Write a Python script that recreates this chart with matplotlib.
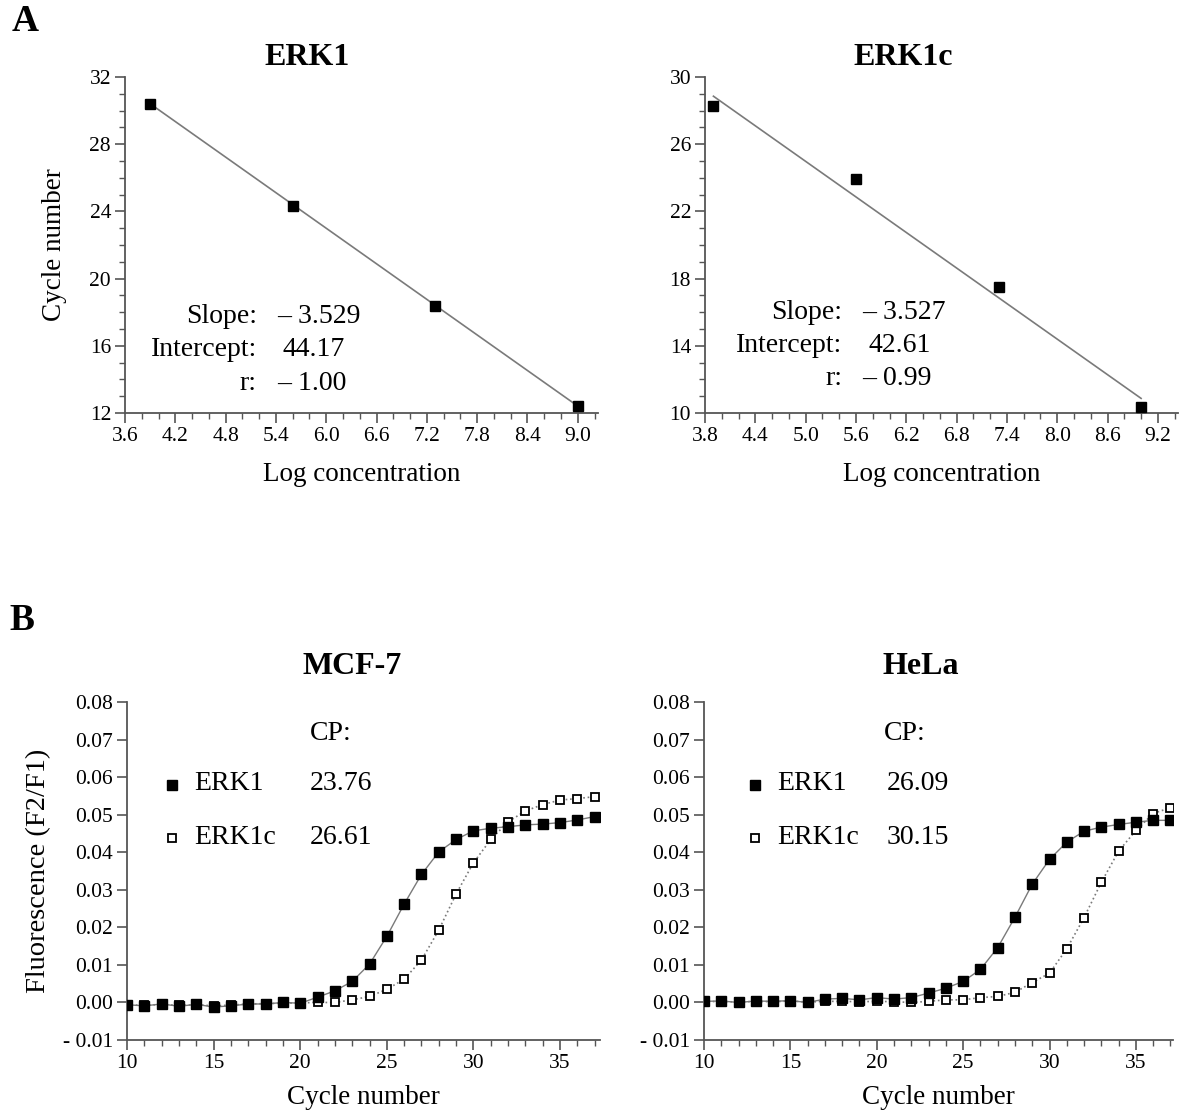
import numpy as np
import matplotlib
matplotlib.use('Agg')
import matplotlib.pyplot as plt
from matplotlib.ticker import MultipleLocator, FuncFormatter

plt.rcParams['font.family'] = ['Liberation Serif', 'DejaVu Serif']

# --- panel A: standard curves ---
log_conc = [3.9, 5.6, 7.3, 9.0]
erk1_cycles = [30.39, 24.34, 18.37, 12.42]
erk1c_cycles = [28.29, 23.91, 17.50, 10.34]
erk1_fit = (-3.529, 44.17, -1.00)
erk1c_fit = (-3.527, 42.61, -0.99)

# --- panel B: amplification curves ---
cycles = list(range(10, 38))
mcf7_erk1 = [-0.0006, -0.0009, -0.0004, -0.0010, -0.0005, -0.0012, -0.0009, -0.0004,
             -0.0004, 0.0000, -0.0002, 0.0014, 0.0031, 0.0056, 0.0102, 0.0176,
             0.0262, 0.0341, 0.0401, 0.0434, 0.0457, 0.0464, 0.0468, 0.0473,
             0.0475, 0.0479, 0.0486, 0.0495]
mcf7_erk1c = [-0.0006, -0.0008, -0.0005, -0.0008, -0.0006, -0.0009, -0.0007, -0.0004,
              -0.0003, -0.0002, -0.0001, 0.0000, 0.0000, 0.0007, 0.0016, 0.0035,
              0.0062, 0.0113, 0.0193, 0.0289, 0.0372, 0.0434, 0.0481, 0.0510,
              0.0527, 0.0539, 0.0543, 0.0548]
hela_erk1 = [0.0003, 0.0004, 0.0000, 0.0004, 0.0003, 0.0005, 0.0000, 0.0009,
             0.0011, 0.0007, 0.0013, 0.0009, 0.0013, 0.0025, 0.0038, 0.0056,
             0.0088, 0.0146, 0.0227, 0.0315, 0.0381, 0.0427, 0.0456, 0.0467,
             0.0474, 0.0480, 0.0485, 0.0485]
hela_erk1c = [0.0002, 0.0003, 0.0001, 0.0003, 0.0002, 0.0004, 0.0001, 0.0003,
              0.0003, 0.0002, 0.0003, 0.0002, 0.0000, 0.0003, 0.0007, 0.0007,
              0.0013, 0.0016, 0.0027, 0.0053, 0.0078, 0.0143, 0.0226, 0.0320,
              0.0403, 0.0458, 0.0503, 0.0519]
cp_mcf7 = ('23.76', '26.61')
cp_hela = ('26.09', '30.15')

AX_COL = '#555555'
LINE_COL = '#7a7a7a'
TICK_FS = 15.5
LABEL_FS = 19.5
TEXT_FS = 20

fig = plt.figure(figsize=(11.8, 11.14), dpi=100)


def style_axes(ax):
    for s in ('top', 'right'):
        ax.spines[s].set_visible(False)
    for s in ('left', 'bottom'):
        ax.spines[s].set_color(AX_COL)
        ax.spines[s].set_linewidth(1.3)
    ax.tick_params(which='major', direction='out', length=7, width=1.2,
                   color=AX_COL, labelsize=TICK_FS, pad=3)
    ax.tick_params(which='minor', direction='out', length=4, width=1.0, color=AX_COL)


def std_curve(ax, x, y, fit, title, title_x, xlim, xmin_tick, ylim, anno):
    slope, icpt, r = fit
    xs = np.array([x[0], x[-1]])
    ax.plot(xs, icpt + slope * xs, color=LINE_COL, lw=1.2)
    ax.plot(x, y, 's', color='black', ms=6.5, clip_on=False, zorder=3)
    ax.set_xlim(*xlim)
    ax.set_ylim(*ylim)
    ax.set_xticks(np.arange(xmin_tick, xlim[1] + 0.01, 0.6))
    ax.xaxis.set_minor_locator(MultipleLocator(0.2))
    ax.xaxis.set_major_formatter(FuncFormatter(lambda v, p: f'{v:.1f}'))
    ax.set_yticks(np.arange(ylim[0], ylim[1] + 0.1, 4))
    ax.yaxis.set_minor_locator(MultipleLocator(1))
    style_axes(ax)
    ax.set_xlabel('Log concentration', fontsize=LABEL_FS)
    ax.xaxis.set_label_coords(0.5, -0.146)
    ax.text(title_x, 1.057, title, transform=ax.transAxes, ha='center', va='center',
            fontsize=23, fontweight='bold')
    lx, vx, vx2, rows = anno
    ax.text(lx, rows[0], 'Slope:', transform=ax.transAxes, ha='right', va='center', fontsize=TEXT_FS)
    ax.text(lx, rows[1], 'Intercept:', transform=ax.transAxes, ha='right', va='center', fontsize=TEXT_FS)
    ax.text(lx, rows[2], 'r:', transform=ax.transAxes, ha='right', va='center', fontsize=TEXT_FS)
    ax.text(vx, rows[0], f'\u2013 {abs(slope):.3f}', transform=ax.transAxes, ha='left', va='center', fontsize=TEXT_FS)
    ax.text(vx2, rows[1], f'{icpt:.2f}', transform=ax.transAxes, ha='left', va='center', fontsize=TEXT_FS)
    ax.text(vx, rows[2], f'\u2013 {abs(r):.2f}', transform=ax.transAxes, ha='left', va='center', fontsize=TEXT_FS)


axA1 = fig.add_axes([0.1059, 0.6293, 0.4008, 0.3016])
std_curve(axA1, log_conc, erk1_cycles, erk1_fit, 'ERK1', 0.385, (3.6, 9.24), 3.6, (12, 32),
          (0.279, 0.321, 0.334, (0.286, 0.1875, 0.089)))
axA1.set_ylabel('Cycle number', fontsize=LABEL_FS)
axA1.yaxis.set_label_coords(-0.123, 0.5)

axA2 = fig.add_axes([0.5975, 0.6293, 0.4008, 0.3016])
std_curve(axA2, log_conc, erk1c_cycles, erk1c_fit, 'ERK1c', 0.419, (3.8, 9.44), 3.8, (10, 30),
          (0.290, 0.332, 0.345, (0.298, 0.202, 0.104)))


def fmt_fluor(v, p):
    if v < -1e-9:
        return f'- {abs(v):.2f}'
    return f'{abs(v):.2f}'


def amp_curve(ax, y1, y2, cp, title, title_x, xmax, pos):
    ax.plot(cycles, y1, '-', color=LINE_COL, lw=1.0, zorder=2)
    ax.plot(cycles, y2, ':', color=LINE_COL, lw=1.2, zorder=2)
    ax.plot(cycles, y2, 's', mfc='white', mec='black', mew=1.3, ms=5.5, zorder=3)
    ax.plot(cycles, y1, 's', color='black', ms=6.5, zorder=4)
    ax.set_xlim(10, xmax)
    ax.set_ylim(-0.01, 0.08)
    ax.xaxis.set_major_locator(MultipleLocator(5))
    ax.xaxis.set_minor_locator(MultipleLocator(1))
    ax.yaxis.set_major_locator(MultipleLocator(0.01))
    ax.yaxis.set_major_formatter(FuncFormatter(fmt_fluor))
    style_axes(ax)
    ax.set_xlabel('Cycle number', fontsize=LABEL_FS)
    ax.xaxis.set_label_coords(0.5, -0.133)
    ax.text(title_x, 1.104, title, transform=ax.transAxes, ha='center', va='center',
            fontsize=23, fontweight='bold')
    mx, tx, vx, cpx = pos
    ax.text(cpx, 0.908, 'CP:', transform=ax.transAxes, ha='left', va='center', fontsize=TEXT_FS)
    ax.plot([mx], [0.755], 's', color='black', ms=6.5, transform=ax.transAxes, clip_on=False)
    ax.plot([mx], [0.598], 's', mfc='white', mec='black', mew=1.3, ms=5.5,
            transform=ax.transAxes, clip_on=False)
    ax.text(tx, 0.760, 'ERK1', transform=ax.transAxes, ha='left', va='center', fontsize=TEXT_FS)
    ax.text(tx, 0.600, 'ERK1c', transform=ax.transAxes, ha='left', va='center', fontsize=TEXT_FS)
    ax.text(vx, 0.760, cp[0], transform=ax.transAxes, ha='left', va='center', fontsize=TEXT_FS)
    ax.text(vx, 0.600, cp[1], transform=ax.transAxes, ha='left', va='center', fontsize=TEXT_FS)


axB1 = fig.add_axes([0.1076, 0.0664, 0.4008, 0.3034])
amp_curve(axB1, mcf7_erk1, mcf7_erk1c, cp_mcf7, 'MCF-7', 0.476, 37.3,
          (0.095, 0.142, 0.387, 0.387))
axB1.set_ylabel('Fluorescence (F2/F1)', fontsize=20.5)
axB1.yaxis.set_label_coords(-0.161, 0.5)

axB2 = fig.add_axes([0.5966, 0.0664, 0.3975, 0.3034])
amp_curve(axB2, hela_erk1, hela_erk1c, cp_hela, 'HeLa', 0.463, 37.15,
          (0.109, 0.156, 0.390, 0.384))

fig.text(0.010, 0.981, 'A', fontsize=27, fontweight='bold', va='center')
fig.text(0.008, 0.443, 'B', fontsize=27, fontweight='bold', va='center')

fig.savefig('out.png', dpi=100, facecolor='white')
